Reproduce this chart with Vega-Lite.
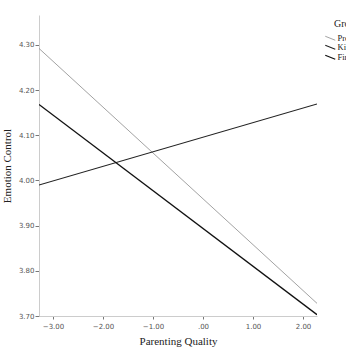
{
  "$schema": "https://vega.github.io/schema/vega-lite/v6.json",
  "width": 278,
  "height": 301,
  "autosize": {"type": "none"},
  "padding": {"left": 39, "top": 15, "right": 29, "bottom": 37},
  "background": "white",
  "config": {"view": {"stroke": null}},
  "data": {
    "values": [
      {"pq": -3.28, "ec": 4.292, "Group": "Preschool"},
      {"pq": 2.28, "ec": 3.728, "Group": "Preschool"},
      {"pq": -3.28, "ec": 3.99, "Group": "Kindergarten"},
      {"pq": 2.28, "ec": 4.169, "Group": "Kindergarten"},
      {"pq": -3.28, "ec": 4.168, "Group": "First grade"},
      {"pq": 2.28, "ec": 3.703, "Group": "First grade"}
    ]
  },
  "mark": {"type": "line", "clip": true},
  "encoding": {
    "x": {
      "field": "pq", "type": "quantitative",
      "scale": {"domain": [-3.28, 2.28], "nice": false, "zero": false},
      "axis": {
        "title": "Parenting Quality",
        "values": [-3, -2, -1, 0, 1, 2],
        "labelExpr": "datum.value == 0 ? '.00' : format(datum.value, '.2f')",
        "grid": false,
        "domainColor": "#cccccc",
        "tickColor": "#777777",
        "tickSize": 3,
        "labelFont": "DejaVu Sans",
        "labelFontSize": 7,
        "labelColor": "#555555",
        "labelPadding": 3,
        "titleFont": "Liberation Serif",
        "titleFontSize": 11,
        "titleFontWeight": "normal",
        "titleColor": "#222222",
        "titlePadding": 6
      }
    },
    "y": {
      "field": "ec", "type": "quantitative",
      "scale": {"domain": [3.7, 4.366], "nice": false, "zero": false},
      "axis": {
        "title": "Emotion Control",
        "values": [3.7, 3.8, 3.9, 4.0, 4.1, 4.2, 4.3],
        "format": ".2f",
        "grid": false,
        "domainColor": "#cccccc",
        "tickColor": "#777777",
        "tickSize": 4,
        "labelFont": "DejaVu Sans",
        "labelFontSize": 7,
        "labelColor": "#555555",
        "labelPadding": 1,
        "titleFont": "Liberation Serif",
        "titleFontSize": 11,
        "titleFontWeight": "normal",
        "titleColor": "#222222",
        "titlePadding": 6
      }
    },
    "color": {
      "field": "Group", "type": "nominal",
      "scale": {"domain": ["Preschool", "Kindergarten", "First grade"], "range": ["#8a8a8a", "#222222", "#111111"]},
      "legend": {
        "title": "Group",
        "orient": "none",
        "legendX": 295,
        "legendY": 4,
        "symbolType": "M-13,-2L-3,2",
        "symbolSize": 4,
        "titleFont": "Liberation Serif",
        "titleFontSize": 10,
        "titleFontWeight": "normal",
        "titleColor": "#222222",
        "labelFont": "Liberation Serif",
        "labelFontSize": 8.5,
        "labelColor": "#222222",
        "rowPadding": 0,
        "labelOffset": -5,
        "titlePadding": 5
      }
    },
    "strokeWidth": {
      "field": "Group", "type": "nominal",
      "scale": {"domain": ["Preschool", "Kindergarten", "First grade"], "range": [0.8, 1.3, 2.0]},
      "legend": {
        "title": "Group",
        "orient": "none",
        "legendX": 295,
        "legendY": 4,
        "symbolType": "M-13,-2L-3,2",
        "symbolSize": 4,
        "titleFont": "Liberation Serif",
        "titleFontSize": 10,
        "titleFontWeight": "normal",
        "titleColor": "#222222",
        "labelFont": "Liberation Serif",
        "labelFontSize": 8.5,
        "labelColor": "#222222",
        "rowPadding": 0,
        "labelOffset": -5,
        "titlePadding": 5
      }
    }
  }
}
